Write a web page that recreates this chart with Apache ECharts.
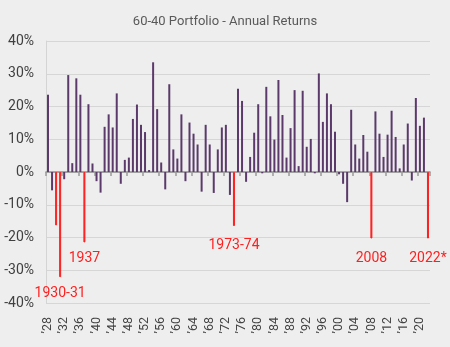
<!DOCTYPE html>
<html>
<head>
<meta charset="utf-8">
<script src="https://cdn.jsdelivr.net/npm/echarts@6/dist/echarts.min.js"></script>
<style>html,body{margin:0;padding:0;background:#eeeeee;}#c{width:450px;height:347px;}</style>
</head>
<body>
<div id="c"></div>
<script>
var title = '60-40 Portfolio - Annual Returns';
var years = [];
for (var y = 1928; y <= 2022; y++) years.push(String(y));
var returns = [
  23.6, -5.6, -16.3, -32.1, -2.2, 29.6, 2.7, 28.6, 23.6, -21.5,
  20.7, 2.6, -2.8, -6.3, 13.8, 17.6, 13.6, 24.0, -3.6, 3.7,
  4.4, 16.2, 20.6, 14.4, 12.2, 0.6, 33.5, 19.2, 2.9, -5.3,
  26.8, 6.9, 4.1, 17.6, -2.8, 15.1, 11.7, 8.4, -6.0, 14.4,
  8.4, -6.4, 6.9, 13.6, 14.4, -7.0, -16.5, 25.4, 21.7, -3.0,
  4.6, 12.0, 20.7, -0.4, 26.0, 17.0, 9.9, 28.1, 17.4, 4.4,
  13.4, 25.0, 1.8, 24.8, 7.7, 10.1, -0.4, 30.1, 15.3, 24.0,
  20.7, 12.3, -0.7, -3.6, -9.2, 19.0, 8.4, 4.1, 11.3, 6.2,
  -20.3, 18.5, 11.7, 4.6, 11.4, 18.7, 10.7, 1.1, 8.4, 14.8,
  -2.6, 22.6, 14.1, 16.6, -20.3
];
var crashYears = ['1930', '1931', '1937', '1974', '2008', '2022'];
var annYears = ['1931', '1937', '1974', '2008', '2022'];
var annTexts = ['1930-31', '1937', '1973-74', '2008', '2022*'];
var annLevels = [-37.0, -26.3, -22.3, -26.3, -26.3];

var purple = '#5b3a6b';
var red = '#ff1f1f';

var barData = returns.map(function (v, i) {
  if (crashYears.indexOf(years[i]) >= 0) {
    return { value: v, itemStyle: { color: red, borderColor: red, borderWidth: 1 } };
  }
  return { value: v };
});

var markData = annYears.map(function (yr, i) {
  return {
    coord: [yr, annLevels[i]],
    label: { formatter: annTexts[i] }
  };
});

var chart = echarts.init(document.getElementById('c'), null, { renderer: 'canvas' });
chart.setOption({
  backgroundColor: '#eeeeee',
  animation: false,
  title: {
    text: title,
    left: 'center',
    top: 10,
    textStyle: { fontFamily: 'Roboto', fontSize: 13, fontWeight: 'normal', color: '#595959' }
  },
  grid: { left: 46, right: 20, top: 41, bottom: 44, containLabel: false, outerBoundsMode: 'none' },
  xAxis: {
    type: 'category',
    data: years,
    boundaryGap: true,
    axisLine: { show: true, onZero: true, lineStyle: { color: '#8f8f8f', width: 1.5 } },
    axisTick: { show: true, interval: 3, length: 4, lineStyle: { color: '#9a9a9a', width: 1.5 } },
    axisLabel: {
      interval: 3,
      rotate: 90,
      margin: 14,
      hideOverlap: false,
      fontFamily: 'Roboto',
      fontSize: 12.5,
      color: '#444444',
      formatter: function (v) { return '\u2019' + v.slice(2); }
    },
    splitLine: { show: false }
  },
  yAxis: {
    type: 'value',
    min: -40,
    max: 40,
    interval: 10,
    axisLine: { show: true, lineStyle: { color: '#d4d4d4' } },
    axisTick: { show: false },
    axisLabel: {
      margin: 12,
      fontFamily: 'Roboto',
      fontSize: 14,
      color: '#404040',
      formatter: '{value}%'
    },
    splitLine: { show: true, lineStyle: { color: '#d6d6d6', width: 1 } }
  },
  series: [{
    type: 'bar',
    data: barData,
    barWidth: 2,
    itemStyle: { color: purple },
    markPoint: {
      symbol: 'circle',
      symbolSize: 0,
      data: markData,
      label: {
        show: true,
        position: 'inside',
        fontFamily: 'Roboto',
        fontSize: 14,
        color: red
      }
    }
  }]
});
</script>
</body>
</html>
